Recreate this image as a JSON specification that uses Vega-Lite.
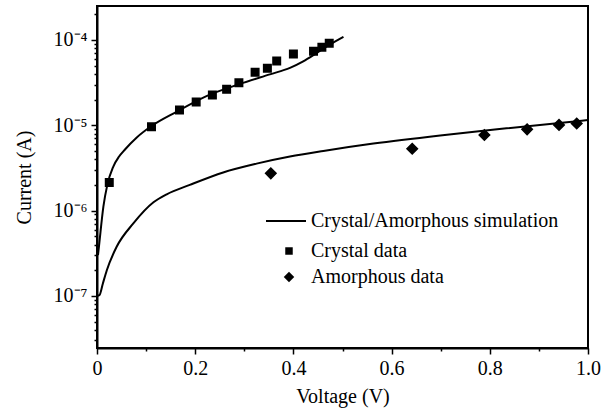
{
  "$schema": "https://vega.github.io/schema/vega-lite/v6.json",
  "width": 491,
  "height": 342,
  "autosize": "none",
  "padding": {"left": 97, "top": 6, "right": 26, "bottom": 67},
  "background": "white",
  "config": {
    "view": {"stroke": "black", "strokeWidth": 2},
    "font": "Liberation Serif",
    "axis": {"labelFont": "Liberation Serif", "titleFont": "Liberation Serif", "labelColor": "black", "titleColor": "black", "tickColor": "black", "domainColor": "black", "grid": false, "labelFontSize": 20, "titleFontSize": 20, "titleFontWeight": "normal", "domainWidth": 2, "tickWidth": 1.5, "labelFlush": false},
    "legend": {"labelFont": "Liberation Serif", "labelFontSize": 20, "labelColor": "black", "labelLimit": 500}
  },
  "datasets": {
    "sim": [
      {"curve": "crystal", "v": 0.002, "i": 3.0e-7},
      {"curve": "crystal", "v": 0.004, "i": 3.8e-7},
      {"curve": "crystal", "v": 0.013, "i": 1.11e-6},
      {"curve": "crystal", "v": 0.021, "i": 2.0e-6},
      {"curve": "crystal", "v": 0.033, "i": 3.26e-6},
      {"curve": "crystal", "v": 0.045, "i": 4.3e-6},
      {"curve": "crystal", "v": 0.057, "i": 5.2e-6},
      {"curve": "crystal", "v": 0.081, "i": 7.2e-6},
      {"curve": "crystal", "v": 0.111, "i": 9.8e-6},
      {"curve": "crystal", "v": 0.162, "i": 1.44e-5},
      {"curve": "crystal", "v": 0.223, "i": 2.2e-5},
      {"curve": "crystal", "v": 0.291, "i": 3.05e-5},
      {"curve": "crystal", "v": 0.352, "i": 3.95e-5},
      {"curve": "crystal", "v": 0.393, "i": 4.7e-5},
      {"curve": "crystal", "v": 0.420, "i": 5.6e-5},
      {"curve": "crystal", "v": 0.447, "i": 7.0e-5},
      {"curve": "crystal", "v": 0.475, "i": 8.9e-5},
      {"curve": "crystal", "v": 0.502, "i": 1.09e-4},
      {"curve": "amorphous", "v": 0.0, "i": 1.0e-7},
      {"curve": "amorphous", "v": 0.005, "i": 1.02e-7},
      {"curve": "amorphous", "v": 0.012, "i": 1.4e-7},
      {"curve": "amorphous", "v": 0.020, "i": 2.0e-7},
      {"curve": "amorphous", "v": 0.040, "i": 3.76e-7},
      {"curve": "amorphous", "v": 0.074, "i": 7.07e-7},
      {"curve": "amorphous", "v": 0.115, "i": 1.25e-6},
      {"curve": "amorphous", "v": 0.142, "i": 1.55e-6},
      {"curve": "amorphous", "v": 0.189, "i": 2.0e-6},
      {"curve": "amorphous", "v": 0.257, "i": 2.8e-6},
      {"curve": "amorphous", "v": 0.325, "i": 3.55e-6},
      {"curve": "amorphous", "v": 0.393, "i": 4.3e-6},
      {"curve": "amorphous", "v": 0.461, "i": 5.0e-6},
      {"curve": "amorphous", "v": 0.563, "i": 6.1e-6},
      {"curve": "amorphous", "v": 0.699, "i": 7.6e-6},
      {"curve": "amorphous", "v": 0.834, "i": 9.2e-6},
      {"curve": "amorphous", "v": 1.0, "i": 1.15e-5}
    ],
    "pts": [
      {"series": "Crystal data", "v": 0.025, "i": 2.14e-6},
      {"series": "Crystal data", "v": 0.111, "i": 9.6e-6},
      {"series": "Crystal data", "v": 0.168, "i": 1.51e-5},
      {"series": "Crystal data", "v": 0.202, "i": 1.87e-5},
      {"series": "Crystal data", "v": 0.235, "i": 2.26e-5},
      {"series": "Crystal data", "v": 0.264, "i": 2.64e-5},
      {"series": "Crystal data", "v": 0.289, "i": 3.15e-5},
      {"series": "Crystal data", "v": 0.322, "i": 4.18e-5},
      {"series": "Crystal data", "v": 0.347, "i": 4.66e-5},
      {"series": "Crystal data", "v": 0.366, "i": 5.67e-5},
      {"series": "Crystal data", "v": 0.400, "i": 6.85e-5},
      {"series": "Crystal data", "v": 0.441, "i": 7.37e-5},
      {"series": "Crystal data", "v": 0.458, "i": 8.2e-5},
      {"series": "Crystal data", "v": 0.473, "i": 9.14e-5},
      {"series": "Amorphous data", "v": 0.354, "i": 2.73e-6},
      {"series": "Amorphous data", "v": 0.642, "i": 5.3e-6},
      {"series": "Amorphous data", "v": 0.789, "i": 7.68e-6},
      {"series": "Amorphous data", "v": 0.876, "i": 8.95e-6},
      {"series": "Amorphous data", "v": 0.941, "i": 1.01e-5},
      {"series": "Amorphous data", "v": 0.977, "i": 1.05e-5}
    ]
  },
  "resolve": {"axis": {"x": "independent", "y": "independent"}},
  "layer": [
    {
      "data": {"name": "sim"},
      "mark": {"type": "line", "strokeWidth": 2, "interpolate": "monotone", "clip": true},
      "encoding": {
        "x": {"field": "v", "type": "quantitative", "scale": {"domain": [0, 1], "nice": false},
          "axis": {"orient": "bottom", "title": "Voltage (V)", "values": [0, 0.2, 0.4, 0.6, 0.8, 1.0], "tickSize": 6, "labelPadding": 4, "titlePadding": 8,
            "labelExpr": "datum.value == 0 ? '0' : format(datum.value, '.1f')"}},
        "y": {"field": "i", "type": "quantitative", "scale": {"type": "log", "domain": [2.45e-8, 2.5e-4], "nice": false},
          "axis": {"orient": "left", "title": "Current (A)", "values": [1e-7, 1e-6, 1e-5, 1e-4], "tickSize": 6, "labelPadding": 4, "titlePadding": 19,
            "labelExpr": "datum.value > 5e-5 ? '10⁻⁴' : datum.value > 5e-6 ? '10⁻⁵' : datum.value > 5e-7 ? '10⁻⁶' : '10⁻⁷'"}},
        "detail": {"field": "curve"},
        "color": {"datum": "Crystal/Amorphous simulation", "type": "nominal", "scale": {"range": ["black"]},
          "legend": {"title": null, "orient": "none", "legendX": 168, "legendY": 194, "padding": 0, "labelOffset": 4,
            "symbolType": "stroke", "symbolSize": 1600, "symbolStrokeWidth": 2, "symbolStrokeColor": "black"}}
      }
    },
    {
      "data": {"name": "pts"},
      "mark": {"type": "point", "filled": true, "color": "black", "stroke": "black", "strokeWidth": 1.5, "opacity": 1},
      "encoding": {
        "x": {"field": "v", "type": "quantitative",
          "axis": {"orient": "bottom", "title": null, "values": [0.1, 0.3, 0.5, 0.7, 0.9], "tickSize": 3, "labels": false, "domain": false}},
        "y": {"field": "i", "type": "quantitative",
          "axis": {"orient": "left", "title": null, "labels": false, "domain": false, "tickSize": 3,
            "values": [3e-8, 4e-8, 5e-8, 6e-8, 7e-8, 8e-8, 9e-8, 2e-7, 3e-7, 4e-7, 5e-7, 6e-7, 7e-7, 8e-7, 9e-7, 2e-6, 3e-6, 4e-6, 5e-6, 6e-6, 7e-6, 8e-6, 9e-6, 2e-5, 3e-5, 4e-5, 5e-5, 6e-5, 7e-5, 8e-5, 9e-5, 2e-4]}},
        "shape": {"field": "series", "type": "nominal",
          "scale": {"domain": ["Crystal data", "Amorphous data"], "range": ["square", "diamond"]},
          "legend": {"title": null, "orient": "none", "legendX": 182, "legendY": 235, "padding": 0, "labelOffset": 12, "rowPadding": 6,
            "symbolFillColor": "black", "symbolStrokeColor": "black", "symbolStrokeWidth": 1.5, "symbolOpacity": 1}},
        "size": {"field": "series", "type": "nominal",
          "scale": {"type": "ordinal", "domain": ["Crystal data", "Amorphous data"], "range": [56, 110]},
          "legend": {"title": null, "orient": "none", "legendX": 182, "legendY": 235, "padding": 0, "labelOffset": 12, "rowPadding": 6,
            "symbolFillColor": "black", "symbolStrokeColor": "black", "symbolStrokeWidth": 1.5, "symbolOpacity": 1}}
      }
    }
  ]
}
